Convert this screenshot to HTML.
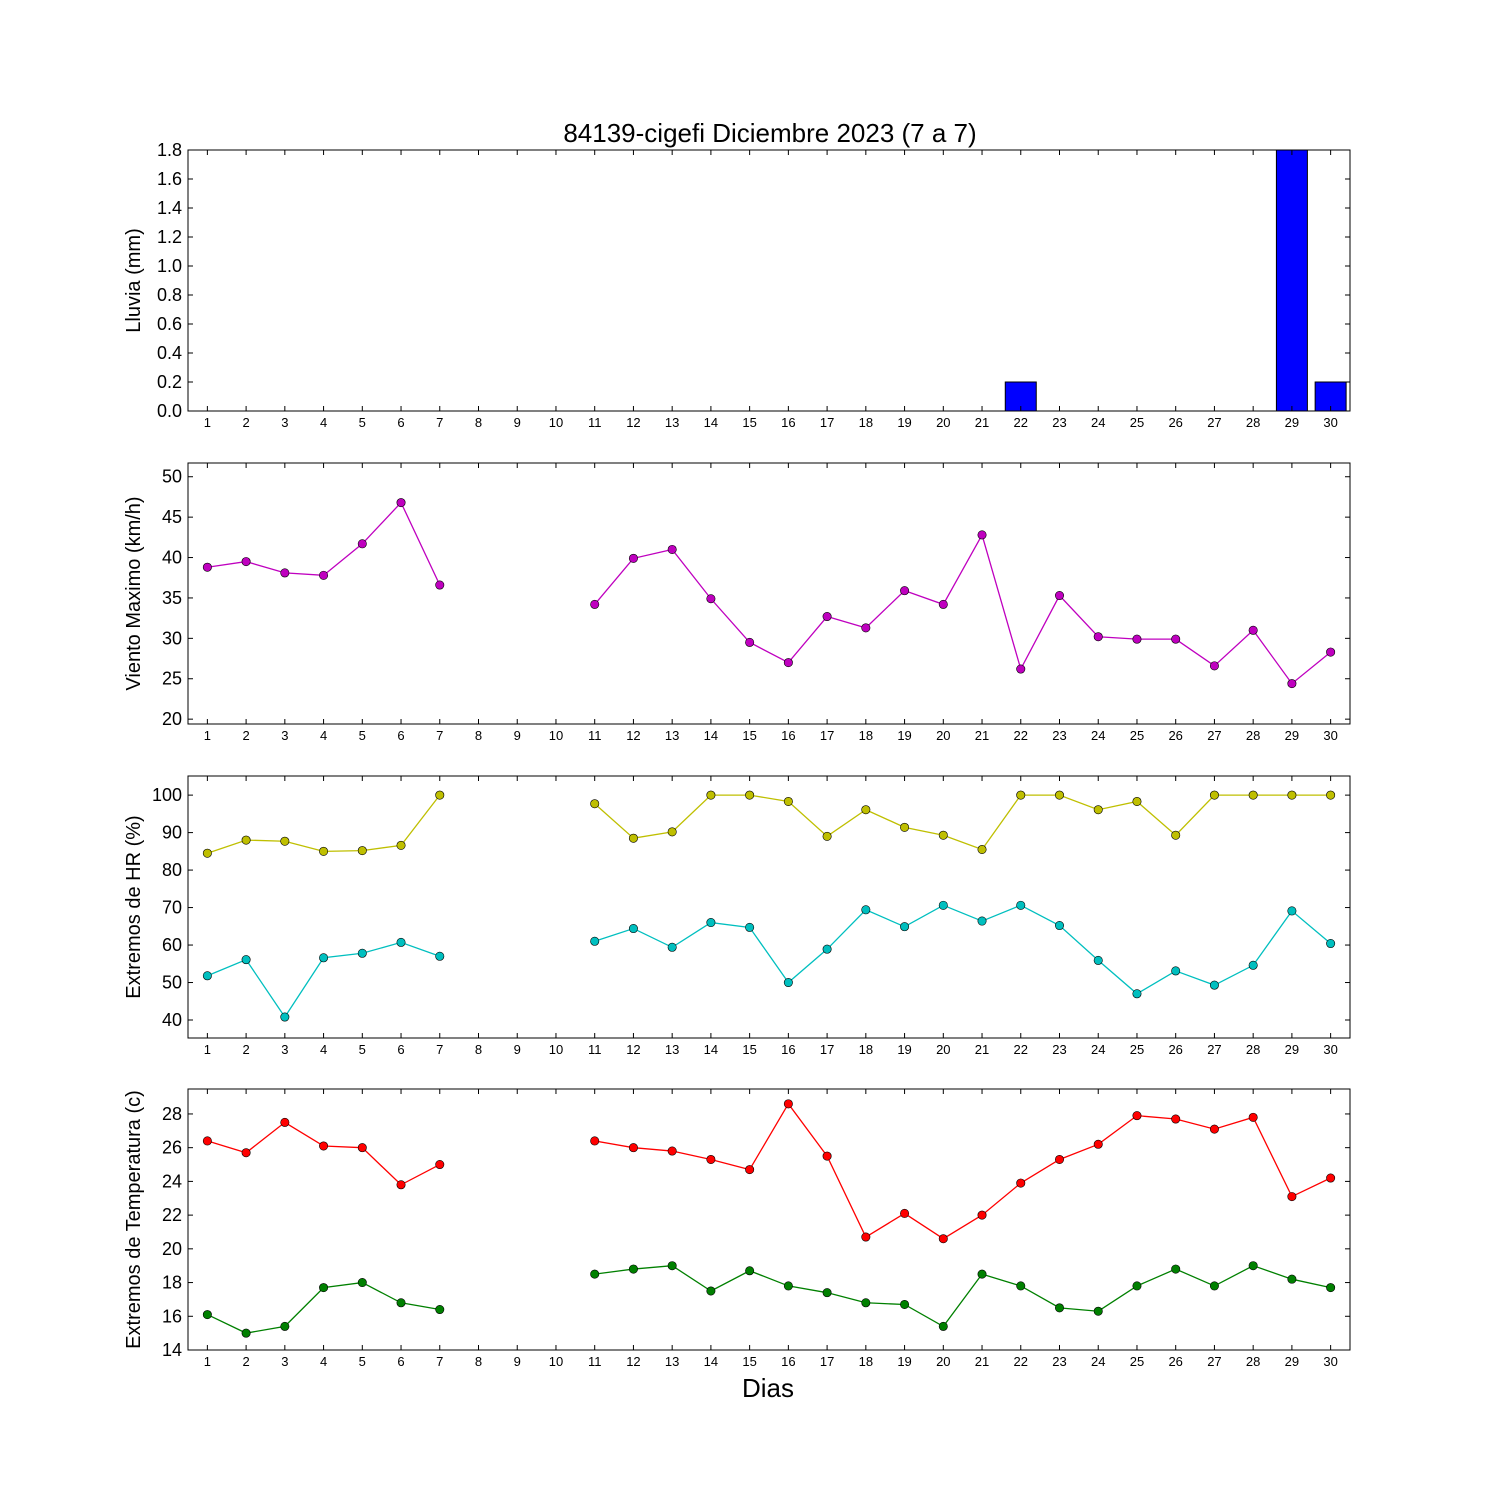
<!DOCTYPE html>
<html><head><meta charset="utf-8"><style>
body{margin:0;background:#fff}
svg{display:block;font-family:"Liberation Sans","DejaVu Sans",sans-serif}
</style></head><body>
<svg id="chart" width="1500" height="1500" viewBox="0 0 1500 1500" xmlns="http://www.w3.org/2000/svg">
<rect width="1500" height="1500" fill="#fff"/>
<text x="770" y="142" font-size="26" text-anchor="middle">84139-cigefi Diciembre 2023  (7 a 7)</text>
<text x="768" y="1397" font-size="26" text-anchor="middle">Dias</text>
</svg>
<script>
const days = Array.from({length:30},(_,i)=>i+1);
const rain = [0,0,0,0,0,0,0,0,0,0,0,0,0,0,0,0,0,0,0,0,0,0.2,0,0,0,0,0,0,1.8,0.2];
const windMax = [38.8,39.5,38.1,37.8,41.7,46.8,36.6,null,null,null,34.2,39.9,41.0,34.9,29.5,27.0,32.7,31.3,35.9,34.2,42.8,26.2,35.3,30.2,29.9,29.9,26.6,31.0,24.4,28.3];
const hrMax = [84.5,88,87.7,85,85.2,86.6,100,null,null,null,97.7,88.5,90.2,100,100,98.3,89,96.1,91.4,89.3,85.5,100,100,96.1,98.3,89.3,100,100,100,100];
const hrMin = [51.8,56.1,40.8,56.6,57.8,60.7,57,null,null,null,61,64.4,59.4,66,64.7,50,58.9,69.4,64.9,70.6,66.4,70.6,65.2,55.9,47,53.1,49.3,54.6,69.1,60.4];
const tMax = [26.4,25.7,27.5,26.1,26,23.8,25,null,null,null,26.4,26,25.8,25.3,24.7,28.6,25.5,20.7,22.1,20.6,22,23.9,25.3,26.2,27.9,27.7,27.1,27.8,23.1,24.2];
const tMin = [16.1,15,15.4,17.7,18,16.8,16.4,null,null,null,18.5,18.8,19,17.5,18.7,17.8,17.4,16.8,16.7,15.4,18.5,17.8,16.5,16.3,17.8,18.8,17.8,19,18.2,17.7];
const rainTicks = [0,0.2,0.4,0.6,0.8,1.0,1.2,1.4,1.6,1.8];
const windTicks = [20,25,30,35,40,45,50];
const hrTicks = [40,50,60,70,80,90,100];
const tTicks = [14,16,18,20,22,24,26,28];

const svg = document.getElementById('chart');
const NS = 'http://www.w3.org/2000/svg';
const L=188,R=1350;
function x(d){return L+(d-0.5)*(R-L)/30;}
function mk(tag,attrs,parent){const e=document.createElementNS(NS,tag);for(const k in attrs)e.setAttribute(k,attrs[k]);(parent||svg).appendChild(e);return e;}

const panels = [
 {name:'rain',top:150,bot:411,ymin:0,ymax:1.8,ticks:rainTicks,fmt:v=>v.toFixed(1),label:'Lluvia (mm)'},
 {name:'wind',top:463,bot:724,ymin:19.4,ymax:51.7,ticks:windTicks,fmt:v=>String(v),label:'Viento Maximo (km/h)'},
 {name:'humidity',top:776,bot:1038,ymin:35.2,ymax:105.1,ticks:hrTicks,fmt:v=>String(v),label:'Extremos de HR (%)'},
 {name:'temperature',top:1089,bot:1350,ymin:14,ymax:29.48,ticks:tTicks,fmt:v=>String(v),label:'Extremos de Temperatura (c)'}
];
panels.forEach(p=>{p.y=v=>p.bot-(v-p.ymin)/(p.ymax-p.ymin)*(p.bot-p.top);});

function series(p,vals,color,name){
  const g=mk('g',{});
  
  
  let seg=[];const segs=[];
  vals.forEach((v,i)=>{if(v==null){if(seg.length)segs.push(seg);seg=[];}else seg.push([x(days[i]),p.y(v)]);});
  if(seg.length)segs.push(seg);
  segs.forEach(s=>{
    const pl=mk('polyline',{points:s.map(q=>q.join(',')).join(' '),fill:'none',stroke:color,'stroke-width':1.3},g);
    
    
  });
  vals.forEach((v,i)=>{if(v==null)return;
    const c=mk('circle',{cx:x(days[i]),cy:p.y(v),r:4.2,fill:color,stroke:'#000','stroke-width':0.6},g);
    
    
  });
}

panels.forEach(p=>{
  const g=mk('g',{});
  
  
  if(p.name==='rain'){
    rain.forEach((v,i)=>{
      const bw=0.8*(R-L)/30;
      const r=mk('rect',{x:x(days[i])-bw/2,y:p.y(v),width:bw,height:p.bot-p.y(v),fill:'#0000ff',stroke:'#000','stroke-width':1},g);
      
      
    });
  }
  // axes box
  const box=mk('rect',{x:L,y:p.top,width:R-L,height:p.bot-p.top,fill:'none',stroke:'#000','stroke-width':1},g);
  
  
  p.ticks.forEach(t=>{
    const yy=p.y(t);
    mk('line',{x1:L,x2:L+5,y1:yy,y2:yy,stroke:'#000'},g);
    mk('line',{x1:R,x2:R-5,y1:yy,y2:yy,stroke:'#000'},g);
    const tx=mk('text',{x:L-6,y:yy+6,'font-size':18,'text-anchor':'end'},g);
    tx.textContent=p.fmt(t);
    
    
  });
  days.forEach(d=>{
    const xx=x(d);
    mk('line',{x1:xx,x2:xx,y1:p.bot,y2:p.bot-5,stroke:'#000'},g);
    mk('line',{x1:xx,x2:xx,y1:p.top,y2:p.top+5,stroke:'#000'},g);
    const tx=mk('text',{x:xx,y:p.bot+16,'font-size':13,'text-anchor':'middle'},g);
    tx.textContent=String(d);
    
    
  });
  const cy=(p.top+p.bot)/2;
  const lab=mk('text',{x:0,y:0,'font-size':20,'text-anchor':'middle',transform:`translate(140,${cy}) rotate(-90)`},g);
  lab.textContent=p.label;
  
  
});
series(panels[1],windMax,'#bf00bf','wind-max');
series(panels[2],hrMax,'#bfbf00','humidity-max');
series(panels[2],hrMin,'#00bfbf','humidity-min');
series(panels[3],tMax,'#ff0000','temperature-max');
series(panels[3],tMin,'#008000','temperature-min');
</script>
</body></html>
